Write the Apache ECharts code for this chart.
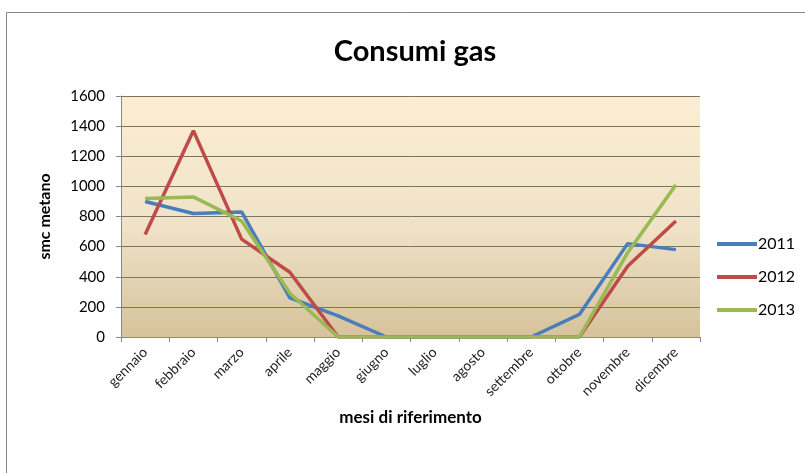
<!DOCTYPE html>
<html>
<head>
<meta charset="utf-8">
<script src="https://cdn.jsdelivr.net/npm/echarts@6/dist/echarts.min.js"></script>
<style>
  html,body{margin:0;padding:0;background:#fff;}
  #chart{width:805px;height:473px;}
</style>
</head>
<body>
<div id="chart"></div>
<script>
// mesi e consumi (smc metano)
const mesi = ['gennaio','febbraio','marzo','aprile','maggio','giugno','luglio','agosto','settembre','ottobre','novembre','dicembre']
const anno2011 = [900, 820, 830, 260, 140, 0, 0, 0, 0, 150, 620, 580]
const anno2012 = [680, 1370, 650, 430, 0, 0, 0, 0, 0, 0, 470, 770]
const anno2013 = [920, 930, 770, 290, 0, 0, 0, 0, 0, 0, 560, 1010]
const yTicks = [0, 200, 400, 600, 800, 1000, 1200, 1400, 1600]

const chart = echarts.init(document.getElementById('chart'))
const font = 'Lato, "Open Sans", sans-serif'

chart.setOption({
  animation: false,
  textStyle: { fontFamily: font },
  title: {
    text: 'Consumi gas',
    left: 410, top: 32, textAlign: 'center',
    textStyle: { fontSize: 29, fontWeight: 'bold', color: '#000', fontFamily: font }
  },
  // cornice del grafico
  graphic: [{
    type: 'rect', z: -10,
    shape: { x: 6.5, y: 12.5, width: 820, height: 480 },
    style: { fill: '#fff', stroke: '#888', lineWidth: 1 }
  }],
  legend: {
    orient: 'vertical',
    left: 712, top: 231,
    itemGap: 17,
    itemWidth: 40, itemHeight: 4,
    icon: 'rect',
    textStyle: { fontSize: 16, color: '#000', padding: [0, 0, 0, -4] },
    data: ['2011', '2012', '2013']
  },
  grid: {
    left: 121, right: 105, top: 96, bottom: 136,
    show: true, borderWidth: 0,
    backgroundColor: new echarts.graphic.LinearGradient(0, 0, 0, 1, [
      { offset: 0, color: '#fdeed2' },
      { offset: 0.55, color: '#efe2c6' },
      { offset: 1, color: '#d6c29c' }
    ])
  },
  xAxis: {
    type: 'category',
    data: mesi,
    boundaryGap: true,
    name: 'mesi di riferimento',
    nameLocation: 'middle',
    nameGap: 72,
    nameTextStyle: { fontSize: 17, fontWeight: 'bold', color: '#000' },
    axisLine: { lineStyle: { color: '#888' } },
    axisTick: { show: true, length: 5, lineStyle: { color: '#888' } },
    axisLabel: { rotate: 45, fontSize: 14, color: '#222', margin: 13, interval: 0 }
  },
  yAxis: {
    type: 'value',
    min: yTicks[0], max: yTicks[yTicks.length - 1], interval: 200,
    name: 'smc metano',
    nameLocation: 'middle',
    nameGap: 68,
    nameTextStyle: { fontSize: 16, fontWeight: 'bold', color: '#000' },
    axisLine: { show: true, lineStyle: { color: '#888' } },
    axisTick: { show: true, length: 5, lineStyle: { color: '#888' } },
    axisLabel: { fontSize: 15, color: '#000', margin: 16, formatter: v => String(v) },
    splitLine: { lineStyle: { color: '#7a7468', width: 1 } }
  },
  series: [
    { name: '2011', type: 'line', data: anno2011, symbol: 'none', lineStyle: { width: 3.5, color: '#4a7ebb' }, itemStyle: { color: '#4a7ebb' } },
    { name: '2012', type: 'line', data: anno2012, symbol: 'none', lineStyle: { width: 3.5, color: '#be4b48' }, itemStyle: { color: '#be4b48' } },
    { name: '2013', type: 'line', data: anno2013, symbol: 'none', lineStyle: { width: 3.5, color: '#98b954' }, itemStyle: { color: '#98b954' } }
  ]
})
</script>
</body>
</html>
